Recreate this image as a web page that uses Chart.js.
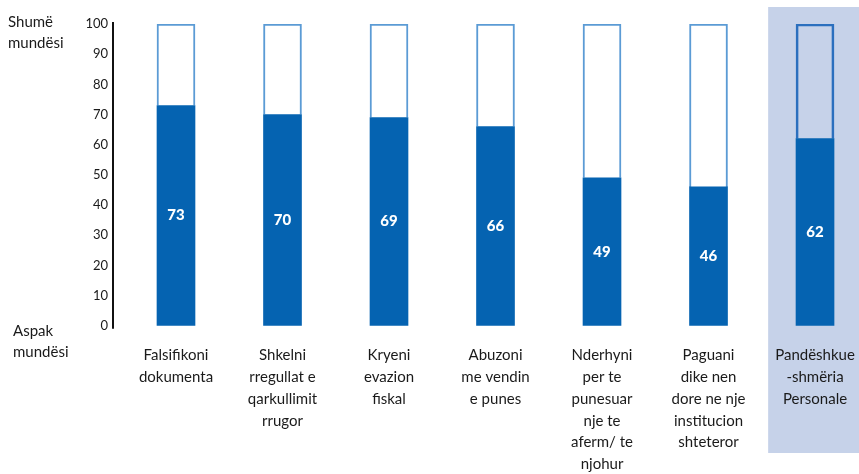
<!DOCTYPE html>
<html>
<head>
<meta charset="utf-8">
<script src="https://cdn.jsdelivr.net/npm/chart.js@4"></script>
<style>
  html, body { margin: 0; padding: 0; background: #ffffff; }
  #wrap { width: 859px; height: 474px; position: relative; }
</style>
</head>
<body>
<div id="wrap"><canvas id="c" width="859" height="474"></canvas></div>
<script>
// ---- data ----
const categories = [
  ["Falsifikoni", "dokumenta"],
  ["Shkelni", "rregullat e", "qarkullimit", "rrugor"],
  ["Kryeni", "evazion", "fiskal"],
  ["Abuzoni", "me vendin", "e punes"],
  ["Nderhyni", "per te", "punesuar", "nje te", "aferm/ te", "njohur"],
  ["Paguani", "dike nen", "dore ne nje", "institucion", "shteteror"],
  ["Pandëshkue", "-shmëria", "Personale"]
];
const values = [73, 70, 69, 66, 49, 46, 62];
const scaleMax = 100;
const remainder = values.map(v => scaleMax - v);
const yTicks = [0, 10, 20, 30, 40, 50, 60, 70, 80, 90, 100];
const topLabel = ["Shumë", "mundësi"];
const bottomLabel = ["Aspak", "mundësi"];
const highlightIndex = 6;

// ---- styles ----
const FONT = "Lato, 'Open Sans', sans-serif";
const BLUE = "#0563B1";
const BAND = "#C6D2E9";

const bgPlugin = {
  id: "band",
  beforeDraw(chart) {
    const ctx = chart.ctx;
    const xs = chart.scales.x;
    const unit = xs.getPixelForValue(1) - xs.getPixelForValue(0);
    const left = xs.getPixelForValue(highlightIndex) - 0.44 * unit;
    ctx.save();
    ctx.fillStyle = "#ffffff";
    ctx.fillRect(0, 0, chart.width, chart.height);
    ctx.fillStyle = BAND;
    ctx.fillRect(left, 7, chart.width - left, 446);
    ctx.restore();
  }
};

const decoPlugin = {
  id: "deco",
  afterDraw(chart) {
    const ctx = chart.ctx;
    const ys = chart.scales.y;
    const x = chart.chartArea.left;
    ctx.save();
    ctx.strokeStyle = "#111111";
    ctx.lineWidth = 2;
    ctx.beginPath();
    ctx.moveTo(x, ys.getPixelForValue(100) - 2);
    ctx.lineTo(x, ys.getPixelForValue(0) + 3);
    ctx.stroke();

    ctx.fillStyle = "#1a1a1a";
    ctx.font = "15px " + FONT;
    ctx.textAlign = "left";
    ctx.textBaseline = "alphabetic";
    ctx.fillText(topLabel[0], 8, 27);
    ctx.fillText(topLabel[1], 8, 48);
    ctx.fillText(bottomLabel[0], 13, 336);
    ctx.fillText(bottomLabel[1], 13, 357);

    // value labels
    const meta = chart.getDatasetMeta(0);
    ctx.fillStyle = "#ffffff";
    ctx.font = "900 15px " + FONT;
    ctx.textAlign = "center";
    ctx.textBaseline = "middle";
    meta.data.forEach((bar, i) => {
      ctx.fillText(String(values[i]), bar.x, (bar.y + bar.base) / 2);
    });
    ctx.restore();
  }
};

const xMin = -0.5915;
const xMax = 6.413;

new Chart(document.getElementById("c"), {
  type: "bar",
  data: {
    datasets: [
      {
        data: values.map((v, i) => ({ x: i, y: v })),
        backgroundColor: BLUE,
        borderWidth: 0,
        barThickness: 38
      },
      {
        data: remainder.map((v, i) => ({ x: i, y: v })),
        backgroundColor: values.map((v, i) => i === highlightIndex ? "rgba(0,0,0,0)" : "#ffffff"),
        borderColor: values.map((v, i) => i === highlightIndex ? "#2B6FBE" : "#5B9BD5"),
        borderWidth: { top: 2, left: 2, right: 2, bottom: 0 },
        borderSkipped: false,
        barThickness: 38
      }
    ]
  },
  options: {
    responsive: false,
    animation: false,
    events: [],
    layout: { padding: { top: 24, right: 0, bottom: 0, left: 0 } },
    plugins: {
      legend: { display: false },
      tooltip: { enabled: false }
    },
    scales: {
      x: {
        type: "linear",
        stacked: true,
        offset: false,
        min: xMin,
        max: xMax,
        grid: { display: false, drawTicks: false, offset: false },
        border: { display: false },
        afterBuildTicks(scale) {
          scale.ticks = categories.map((_, i) => ({ value: i }));
        },
        afterFit(scale) {
          scale.height = 148.3;
          scale.paddingLeft = 0;
          scale.paddingRight = 0;
        },
        ticks: {
          autoSkip: false,
          maxRotation: 0,
          minRotation: 0,
          padding: 19,
          color: "#1a1a1a",
          font: { family: FONT, size: 15, lineHeight: 1.45 },
          callback: (v) => categories[v] || ""
        }
      },
      y: {
        stacked: true,
        min: 0,
        max: scaleMax,
        grid: { display: false, drawTicks: false },
        border: { display: false },
        afterBuildTicks(scale) {
          scale.ticks = yTicks.map(v => ({ value: v }));
        },
        afterFit(scale) { scale.width = 113; },
        ticks: {
          padding: 5,
          color: "#1a1a1a",
          font: { family: FONT, size: 13 }
        }
      }
    }
  },
  plugins: [bgPlugin, decoPlugin]
});
</script>
</body>
</html>
